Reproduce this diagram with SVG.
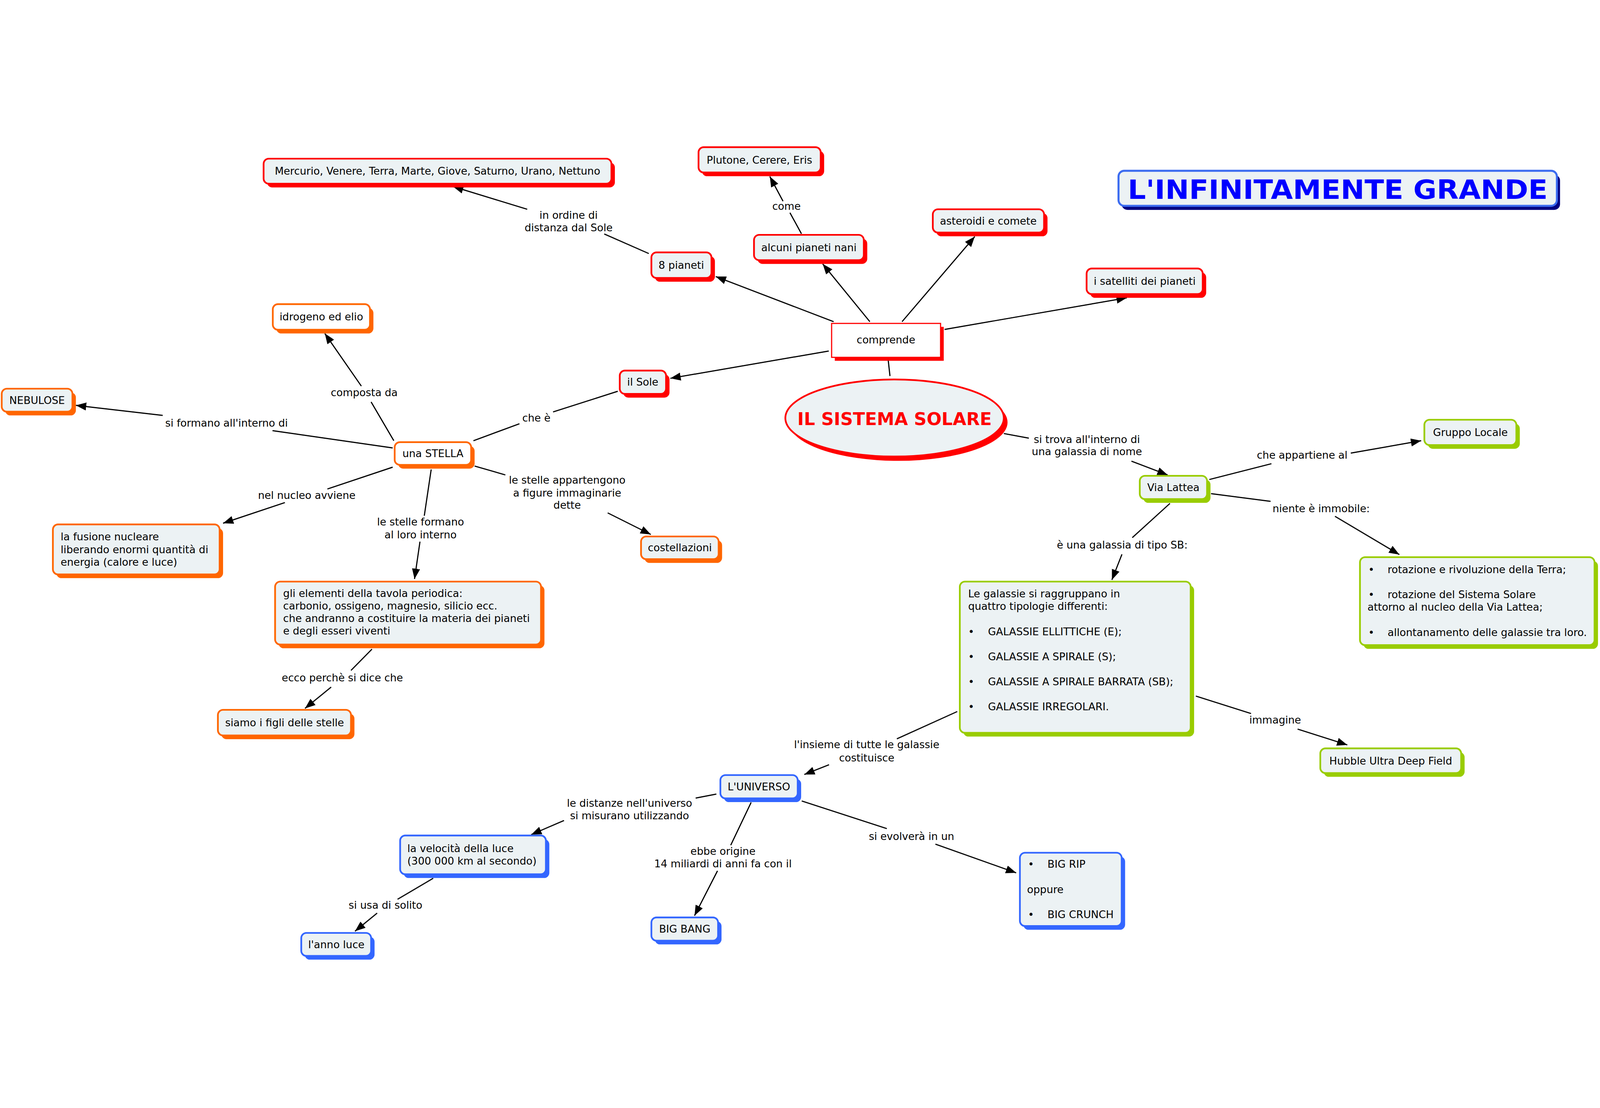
<svg xmlns="http://www.w3.org/2000/svg" width="5566" height="2836" viewBox="0 0 5566 2836" style="width:100%;height:100%">
<defs>
<marker id="ah" markerUnits="userSpaceOnUse" markerWidth="36" markerHeight="28" refX="36" refY="14" orient="auto">
<path d="M0,0 L36,14 L0,28 z" fill="#000"/>
</marker>
</defs>
<style>
.t{font-family:"DejaVu Sans",Verdana,sans-serif;font-size:36px;fill:#000}
.c{text-anchor:middle}
.ln{stroke:#000;stroke-width:4;fill:none}
.ar{marker-end:url(#ah)}
.sr{fill:#FF0000}.br{fill:#ECF2F4;stroke:#FF0000;stroke-width:6}
.so{fill:#FF6600}.bo{fill:#ECF2F4;stroke:#FF6600;stroke-width:6}
.sg{fill:#99CC00}.bg{fill:#ECF2F4;stroke:#99CC00;stroke-width:6}
.sb{fill:#3366FF}.bb{fill:#ECF2F4;stroke:#3366FF;stroke-width:6}
.w{fill:#FFFFFF}
</style>
<rect width="5566" height="2836" fill="#FFFFFF"/>

<g id="connectors">
<line class="ln" x1="3096" y1="799" x2="3090" y2="745"/>
<line class="ln ar" x1="2900" y1="610" x2="2490" y2="453"/>
<line class="ln ar" x1="3026" y1="610" x2="2862" y2="409"/>
<line class="ln ar" x1="3138" y1="610" x2="3391" y2="314"/>
<line class="ln ar" x1="3286" y1="637" x2="3920" y2="527"/>
<line class="ln ar" x1="2883" y1="712" x2="2332" y2="807"/>
<line class="ln" x1="2788" y1="304" x2="2748" y2="231"/>
<line class="ln ar" x1="2724" y1="191" x2="2678" y2="105"/>
<text class="t c" x="2736" y="221">come</text>
<line class="ln" x1="2257" y1="373" x2="2102" y2="305"/>
<line class="ln ar" x1="1834" y1="219" x2="1576" y2="140"/>
<text class="t c" x="1978" y="252">in ordine di</text>
<text class="t c" x="1978" y="295">distanza dal Sole</text>
<line class="ln" x1="2149" y1="852" x2="1924" y2="924"/>
<line class="ln" x1="1807" y1="965" x2="1647" y2="1024"/>
<text class="t c" x="1866" y="958">che è</text>
<line class="ln" x1="1651" y1="1112" x2="1758" y2="1143"/>
<line class="ln ar" x1="2114" y1="1275" x2="2264" y2="1350"/>
<text class="t c" x="1973" y="1174">le stelle appartengono</text>
<text class="t c" x="1973" y="1218">a figure immaginarie</text>
<text class="t c" x="1973" y="1261">dette</text>
<line class="ln" x1="1370" y1="1024" x2="1291" y2="889"/>
<line class="ln ar" x1="1257" y1="834" x2="1130" y2="651"/>
<text class="t c" x="1267" y="869">composta da</text>
<line class="ln" x1="1366" y1="1049" x2="948" y2="989"/>
<line class="ln ar" x1="566" y1="936" x2="264" y2="901"/>
<text class="t c" x="788" y="975">si formano all'interno di</text>
<line class="ln" x1="1366" y1="1116" x2="1139" y2="1192"/>
<line class="ln ar" x1="991" y1="1239" x2="776" y2="1311"/>
<text class="t c" x="1067" y="1227">nel nucleo avviene</text>
<line class="ln" x1="1500" y1="1124" x2="1476" y2="1285"/>
<line class="ln ar" x1="1461" y1="1375" x2="1442" y2="1505"/>
<text class="t c" x="1463" y="1319">le stelle formano</text>
<text class="t c" x="1463" y="1363">al loro interno</text>
<line class="ln" x1="1294" y1="1749" x2="1221" y2="1823"/>
<line class="ln ar" x1="1152" y1="1881" x2="1061" y2="1955"/>
<text class="t c" x="1191" y="1861">ecco perchè si dice che</text>
<line class="ln" x1="3492" y1="999" x2="3579" y2="1015"/>
<line class="ln ar" x1="3936" y1="1095" x2="4062" y2="1143"/>
<text class="t c" x="3781" y="1032">si trova all'interno di</text>
<text class="t c" x="3781" y="1074">una galassia di nome</text>
<line class="ln" x1="4207" y1="1159" x2="4423" y2="1104"/>
<line class="ln ar" x1="4699" y1="1067" x2="4944" y2="1024"/>
<text class="t c" x="4530" y="1086">che appartiene al</text>
<line class="ln" x1="4213" y1="1208" x2="4420" y2="1235"/>
<line class="ln ar" x1="4644" y1="1287" x2="4868" y2="1420"/>
<text class="t c" x="4596" y="1273">niente è immobile:</text>
<line class="ln" x1="4070" y1="1242" x2="3939" y2="1361"/>
<line class="ln ar" x1="3903" y1="1419" x2="3868" y2="1508"/>
<text class="t c" x="3904" y="1399">è una galassia di tipo SB:</text>
<line class="ln" x1="4160" y1="1912" x2="4352" y2="1973"/>
<line class="ln ar" x1="4514" y1="2027" x2="4687" y2="2082"/>
<text class="t c" x="4436" y="2008">immagine</text>
<line class="ln" x1="3330" y1="1966" x2="3120" y2="2061"/>
<line class="ln ar" x1="2884" y1="2151" x2="2798" y2="2185"/>
<text class="t c" x="3015" y="2094">l'insieme di tutte le galassie</text>
<text class="t c" x="3015" y="2139">costituisce</text>
<line class="ln" x1="2492" y1="2253" x2="2420" y2="2267"/>
<line class="ln ar" x1="1962" y1="2345" x2="1848" y2="2394"/>
<text class="t c" x="2190" y="2297">le distanze nell'universo</text>
<text class="t c" x="2190" y="2341">si misurano utilizzando</text>
<line class="ln" x1="1507" y1="2546" x2="1383" y2="2619"/>
<line class="ln ar" x1="1312" y1="2667" x2="1235" y2="2730"/>
<text class="t c" x="1341" y="2652">si usa di solito</text>
<line class="ln" x1="2613" y1="2282" x2="2542" y2="2431"/>
<line class="ln ar" x1="2496" y1="2520" x2="2416" y2="2676"/>
<text class="t c" x="2515" y="2464">ebbe origine</text>
<text class="t c" x="2515" y="2508">14 miliardi di anni fa con il</text>
<line class="ln" x1="2789" y1="2277" x2="3085" y2="2373"/>
<line class="ln ar" x1="3254" y1="2427" x2="3535" y2="2527"/>
<text class="t c" x="3171" y="2413">si evolverà in un</text>
</g>

<g id="title">
<rect x="3902" y="99" width="1525" height="122" rx="20" fill="#000080"/>
<rect x="3891" y="85" width="1525" height="122" rx="20" fill="#ECF2F4" stroke="#3C6CF0" stroke-width="7"/>
<text x="3923" y="183" font-family="DejaVu Sans,Verdana,sans-serif" font-weight="bold" font-size="92" fill="#0000FF" textLength="1461" lengthAdjust="spacingAndGlyphs">L'INFINITAMENTE GRANDE</text>
</g>

<g id="n_solare">
<ellipse cx="3125" cy="960" rx="380" ry="134" class="sr"/>
<ellipse cx="3112" cy="945" rx="380" ry="134" class="br"/>
<text x="3112" y="969" text-anchor="middle" font-family="DejaVu Sans,Verdana,sans-serif" font-weight="bold" font-size="61" fill="#FF0000">IL SISTEMA SOLARE</text>
</g>
<g id="n_comprende">
<rect x="2904" y="628" width="379" height="118" class="sr"/>
<rect x="2893" y="616" width="379" height="118" fill="#FFFFFF" stroke="#FF0000" stroke-width="4"/>
<text class="t c" x="3082" y="686">comprende</text>
</g>
<g id="n_mercurio">
<rect x="929" y="56" width="1210" height="87" rx="18" class="sr"/>
<rect x="917" y="43" width="1210" height="87" rx="18" class="br"/>
<text class="t c" x="1522" y="99">Mercurio, Venere, Terra, Marte, Giove, Saturno, Urano, Nettuno</text>
</g>
<g id="n_plutone">
<rect x="2442" y="16" width="425" height="88" rx="18" class="sr"/>
<rect x="2430" y="3" width="425" height="88" rx="18" class="br"/>
<text class="t c" x="2642" y="60">Plutone, Cerere, Eris</text>
</g>
<g id="n_nani">
<rect x="2635" y="321" width="382" height="88" rx="18" class="sr"/>
<rect x="2623" y="308" width="382" height="88" rx="18" class="br"/>
<text class="t c" x="2814" y="365">alcuni pianeti nani</text>
</g>
<g id="n_asteroidi">
<rect x="3257" y="232" width="387" height="81" rx="18" class="sr"/>
<rect x="3245" y="219" width="387" height="81" rx="18" class="br"/>
<text class="t c" x="3438" y="272">asteroidi e comete</text>
</g>
<g id="n_8pianeti">
<rect x="2278" y="382" width="209" height="89" rx="18" class="sr"/>
<rect x="2266" y="369" width="209" height="89" rx="18" class="br"/>
<text class="t c" x="2370" y="426">8 pianeti</text>
</g>
<g id="n_satelliti">
<rect x="3792" y="438" width="404" height="89" rx="18" class="sr"/>
<rect x="3780" y="425" width="404" height="89" rx="18" class="br"/>
<text class="t c" x="3982" y="482">i satelliti dei pianeti</text>
</g>
<g id="n_sole">
<rect x="2168" y="793" width="161" height="81" rx="18" class="sr"/>
<rect x="2156" y="780" width="161" height="81" rx="18" class="br"/>
<text class="t c" x="2236" y="833">il Sole</text>
</g>

<g id="n_idrogeno">
<rect x="961" y="562" width="338" height="89" rx="18" class="so"/>
<rect x="949" y="549" width="338" height="89" rx="18" class="bo w"/>
<text class="t c" x="1118" y="606">idrogeno ed elio</text>
</g>
<g id="n_nebulose">
<rect x="18" y="856" width="246" height="80" rx="18" class="so"/>
<rect x="6" y="843" width="246" height="80" rx="18" class="bo"/>
<text class="t c" x="129" y="896">NEBULOSE</text>
</g>
<g id="n_stella">
<rect x="1385" y="1042" width="266" height="79" rx="18" class="so"/>
<rect x="1373" y="1029" width="266" height="79" rx="18" class="bo w"/>
<text class="t c" x="1506" y="1081">una STELLA</text>
</g>
<g id="n_fusione">
<rect x="196" y="1328" width="580" height="174" rx="18" class="so"/>
<rect x="184" y="1315" width="580" height="174" rx="18" class="bo"/>
<text class="t" x="211" y="1371">la fusione nucleare</text>
<text class="t" x="211" y="1415">liberando enormi quantità di</text>
<text class="t" x="211" y="1459">energia (calore e luce)</text>
</g>
<g id="n_costellazioni">
<rect x="2242" y="1370" width="270" height="79" rx="18" class="so"/>
<rect x="2230" y="1357" width="270" height="79" rx="18" class="bo"/>
<text class="t c" x="2365" y="1409">costellazioni</text>
</g>
<g id="n_elementi">
<rect x="969" y="1527" width="925" height="219" rx="18" class="so"/>
<rect x="957" y="1514" width="925" height="219" rx="18" class="bo"/>
<text class="t" x="985" y="1568">gli elementi della tavola periodica:</text>
<text class="t" x="985" y="1611">carbonio, ossigeno, magnesio, silicio ecc.</text>
<text class="t" x="985" y="1655">che andranno a costituire la materia dei pianeti</text>
<text class="t" x="985" y="1698">e degli esseri viventi</text>
</g>
<g id="n_figli">
<rect x="770" y="1973" width="463" height="89" rx="18" class="so"/>
<rect x="758" y="1960" width="463" height="89" rx="18" class="bo"/>
<text class="t c" x="990" y="2017">siamo i figli delle stelle</text>
</g>

<g id="n_gruppo">
<rect x="4967" y="964" width="320" height="88" rx="18" class="sg"/>
<rect x="4955" y="951" width="320" height="88" rx="18" class="bg"/>
<text class="t c" x="5115" y="1008">Gruppo Locale</text>
</g>
<g id="n_vialattea">
<rect x="3977" y="1159" width="234" height="81" rx="18" class="sg"/>
<rect x="3965" y="1146" width="234" height="81" rx="18" class="bg"/>
<text class="t c" x="4082" y="1199">Via Lattea</text>
</g>
<g id="n_rotazione">
<rect x="4743" y="1442" width="816" height="306" rx="18" class="sg"/>
<rect x="4731" y="1429" width="816" height="306" rx="18" class="bg"/>
<text class="t" x="4760" y="1485">•</text>
<text class="t" x="4827" y="1485">rotazione e rivoluzione della Terra;</text>
<text class="t" x="4760" y="1572">•</text>
<text class="t" x="4827" y="1572">rotazione del Sistema Solare</text>
<text class="t" x="4757" y="1615">attorno al nucleo della Via Lattea;</text>
<text class="t" x="4760" y="1703">•</text>
<text class="t" x="4827" y="1703">allontanamento delle galassie tra loro.</text>
</g>
<g id="n_galassie">
<rect x="3351" y="1527" width="803" height="526" rx="18" class="sg"/>
<rect x="3339" y="1514" width="803" height="526" rx="18" class="bg"/>
<text class="t" x="3368" y="1569">Le galassie si raggruppano in</text>
<text class="t" x="3368" y="1613">quattro tipologie differenti:</text>
<text class="t" x="3368" y="1700">•</text>
<text class="t" x="3437" y="1700">GALASSIE ELLITTICHE (E);</text>
<text class="t" x="3368" y="1788">•</text>
<text class="t" x="3437" y="1788">GALASSIE A SPIRALE (S);</text>
<text class="t" x="3368" y="1875">•</text>
<text class="t" x="3437" y="1875">GALASSIE A SPIRALE BARRATA (SB);</text>
<text class="t" x="3368" y="1962">•</text>
<text class="t" x="3437" y="1962">GALASSIE IRREGOLARI.</text>
</g>
<g id="n_hubble">
<rect x="4605" y="2107" width="490" height="86" rx="18" class="sg"/>
<rect x="4593" y="2094" width="490" height="86" rx="18" class="bg"/>
<text class="t c" x="4838" y="2150">Hubble Ultra Deep Field</text>
</g>

<g id="n_universo">
<rect x="2518" y="2200" width="269" height="81" rx="18" class="sb"/>
<rect x="2506" y="2187" width="269" height="81" rx="18" class="bb"/>
<text class="t c" x="2640" y="2240">L'UNIVERSO</text>
</g>
<g id="n_velocita">
<rect x="1404" y="2410" width="507" height="135" rx="18" class="sb"/>
<rect x="1392" y="2397" width="507" height="135" rx="18" class="bb"/>
<text class="t" x="1417" y="2455">la velocità della luce</text>
<text class="t" x="1417" y="2499">(300 000 km al secondo)</text>
</g>
<g id="n_annoluce">
<rect x="1060" y="2749" width="243" height="80" rx="18" class="sb"/>
<rect x="1048" y="2736" width="243" height="80" rx="18" class="bb"/>
<text class="t c" x="1170" y="2789">l'anno luce</text>
</g>
<g id="n_bigbang">
<rect x="2278" y="2695" width="232" height="81" rx="18" class="sb"/>
<rect x="2266" y="2682" width="232" height="81" rx="18" class="bb"/>
<text class="t c" x="2382" y="2735">BIG BANG</text>
</g>
<g id="n_bigrip">
<rect x="3560" y="2470" width="354" height="255" rx="18" class="sb"/>
<rect x="3548" y="2457" width="354" height="255" rx="18" class="bb"/>
<text class="t" x="3576" y="2509">•</text>
<text class="t" x="3644" y="2509">BIG RIP</text>
<text class="t" x="3573" y="2597">oppure</text>
<text class="t" x="3576" y="2684">•</text>
<text class="t" x="3644" y="2684">BIG CRUNCH</text>
</g>
</svg>
